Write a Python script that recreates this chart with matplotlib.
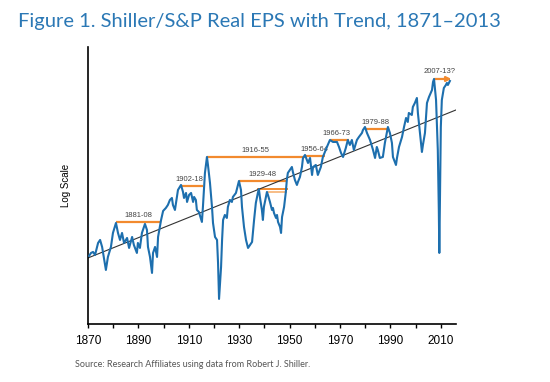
import matplotlib
matplotlib.use("Agg")
import matplotlib.pyplot as plt

# real EPS, in log units (arbitrary)
years = [1870.4, 1871.2, 1872.0, 1872.8, 1874.0, 1874.8, 1875.6, 1876.0, 1877.1, 1877.9,
         1879.1, 1879.9, 1881.1, 1881.9, 1882.7, 1883.5, 1884.3, 1885.5, 1886.3, 1887.5,
         1888.2, 1889.4, 1889.8, 1890.6, 1891.4, 1892.6, 1893.4, 1893.8, 1894.6, 1895.4,
         1895.8, 1896.6, 1897.4, 1897.8, 1899.0, 1899.8, 1900.9, 1901.7, 1902.5, 1903.3,
         1903.7, 1904.5, 1905.3, 1905.7, 1906.9, 1907.7, 1908.1, 1908.9, 1909.3, 1910.1,
         1910.9, 1911.7, 1912.1, 1912.8, 1913.2, 1914.0, 1915.2, 1915.6, 1916.4, 1917.2,
         1917.6, 1918.4, 1919.2, 1919.6, 1920.4, 1921.2, 1921.6, 1922.0, 1922.8, 1923.2,
         1923.6, 1924.3, 1925.1, 1925.5, 1926.3, 1927.1, 1927.5, 1928.7, 1929.9, 1930.7,
         1931.1, 1931.9, 1932.7, 1933.5, 1934.3, 1935.1, 1935.9, 1936.6, 1937.4, 1937.8,
         1938.2, 1939.0, 1939.4, 1939.8, 1940.6, 1941.0, 1941.4, 1942.2, 1943.0, 1943.4,
         1943.8, 1944.6, 1945.0, 1945.4, 1946.2, 1946.6, 1947.0, 1947.8, 1948.5, 1948.9,
         1949.3, 1950.1, 1950.9, 1951.3, 1952.1, 1952.9, 1953.3, 1954.1, 1954.9, 1955.3,
         1956.1, 1957.3, 1958.1, 1958.9, 1959.3, 1960.4, 1961.2, 1962.4, 1963.2, 1964.8,
         1966.0, 1967.2, 1968.8, 1969.6, 1970.4, 1971.2, 1972.3, 1973.1, 1973.9, 1974.7,
         1975.5, 1976.7, 1977.5, 1978.7, 1979.1, 1979.9, 1980.7, 1981.9, 1983.1, 1983.9,
         1984.6, 1985.0, 1985.8, 1987.0, 1987.8, 1988.6, 1989.0, 1989.8, 1990.6, 1991.0,
         1992.2, 1992.6, 1993.4, 1994.6, 1995.4, 1996.2, 1996.9, 1997.3, 1998.5, 1998.9,
         1999.7, 2000.5, 2000.9, 2001.7, 2002.5, 2002.9, 2003.7, 2004.5, 2005.3, 2006.5,
         2006.9, 2007.3, 2008.1, 2008.8, 2009.2, 2009.4, 2010.0, 2010.4, 2011.2, 2012.0,
         2012.4, 2012.8, 2013.6]
eps_log = [68, 71, 72, 69, 81, 84, 77, 71, 54, 67,
           77, 91, 101, 91, 84, 91, 81, 86, 76, 87,
           79, 71, 81, 76, 91, 100, 94, 77, 67, 51,
           71, 77, 67, 87, 104, 113, 116, 119, 124, 126,
           119, 114, 127, 134, 139, 132, 126, 131, 122, 129,
           131, 122, 127, 124, 114, 112, 102, 117, 151, 167,
           159, 141, 117, 101, 87, 84, 61, 25, 57, 84,
           104, 109, 106, 117, 124, 122, 127, 131, 143, 134,
           117, 97, 84, 76, 79, 82, 104, 121, 131, 135,
           127, 114, 104, 117, 127, 132, 129, 122, 114, 116,
           111, 106, 109, 102, 97, 91, 107, 117, 132, 144,
           151, 154, 157, 152, 144, 139, 142, 147, 157, 166,
           169, 161, 166, 149, 157, 159, 149, 157, 167, 177,
           184, 182, 182, 177, 171, 167, 176, 184, 179, 184,
           174, 184, 187, 191, 194, 197, 191, 184, 174, 166,
           177, 174, 166, 167, 181, 192, 197, 191, 181, 167,
           159, 166, 177, 187, 197, 206, 202, 211, 209, 217,
           221, 226, 211, 191, 172, 179, 191, 221, 227, 234,
           242, 245, 224, 174, 114, 71, 197, 224, 236, 239,
           241, 239, 243]

trend_years = [1870, 2016]
trend_vals = [66, 214]

# previous-peak recovery periods: label, start, end, level
periods = ["1881-08", "1902-18", "1916-55", "1929-48", "1956-64", "1966-73", "1979-88"]
period_start = [1881.1, 1906.9, 1917.2, 1929.9, 1956.1, 1966.0, 1979.9]
period_end = [1898.6, 1915.6, 1956.1, 1948.9, 1964.0, 1973.5, 1989.0]
period_level = [102, 138, 167, 143, 168, 184, 195]
label_x = [1890.0, 1910.4, 1936.5, 1939.4, 1959.8, 1968.5, 1984.0]

# extra sub-peaks inside 1929-48
sub_start = [1937.4, 1941.4]
sub_end = [1948.9, 1948.5]
sub_level = [135, 132]

blue = "#1d6fae"
orange = "#f28a2e"

fig = plt.figure(figsize=(5.5, 3.82), dpi=100)
ax = fig.add_axes([0.16, 0.152, 0.669, 0.725])

ax.plot(trend_years, trend_vals, color="#333333", lw=0.8, zorder=2)

for i in range(len(periods)):
    ax.plot([period_start[i], period_end[i]], [period_level[i]] * 2,
            color=orange, lw=1.6, zorder=1, solid_capstyle="butt")
    ax.text(label_x[i], period_level[i] + 2.5, periods[i], fontsize=5.5,
            color="#444444", ha="center", va="bottom", family="Liberation Sans")

ax.plot([sub_start[0], sub_end[0]], [sub_level[0]] * 2, color=orange, lw=1.4, zorder=1)
ax.plot([sub_start[1], sub_end[1]], [sub_level[1]] * 2, color="#f7bd86", lw=1.4, zorder=1)

ax.annotate("", xy=(2014.2, 245), xytext=(2007.5, 245),
            arrowprops=dict(arrowstyle="-|>", color=orange, lw=1.6,
                            mutation_scale=7, shrinkA=0, shrinkB=0))
ax.text(2009.5, 249, "2007-13?", fontsize=5.5, color="#444444", ha="center",
        va="bottom", family="Liberation Sans")

ax.plot(years, eps_log, color=blue, lw=1.5, zorder=3)

ax.set_xlim(1870, 2016)
ax.set_ylim(0, 277)
ax.set_xticks(range(1870, 2011, 10))
ax.set_xticklabels([str(y) if (y - 1870) % 20 == 0 else "" for y in range(1870, 2011, 10)],
                   family="Liberation Sans", fontsize=8.5)
ax.set_yticks([])
ax.tick_params(axis="x", length=3, width=1, direction="out", pad=5)
for s in ["top", "right"]:
    ax.spines[s].set_visible(False)
ax.spines["left"].set_linewidth(1.2)
ax.spines["bottom"].set_linewidth(1.2)
ax.set_ylabel("Log Scale", fontsize=7, family="Liberation Sans", labelpad=12)

fig.text(0.033, 0.945, "Figure 1. Shiller/S&P Real EPS with Trend, 1871\u20132013",
         fontsize=14.5, color="#2b78b5", family="Lato", va="center")
fig.text(0.136, 0.047, "Source: Research Affiliates using data from Robert J. Shiller.",
         fontsize=6.5, color="#555555", family="Lato", va="center")

fig.savefig("out.png", dpi=100)
